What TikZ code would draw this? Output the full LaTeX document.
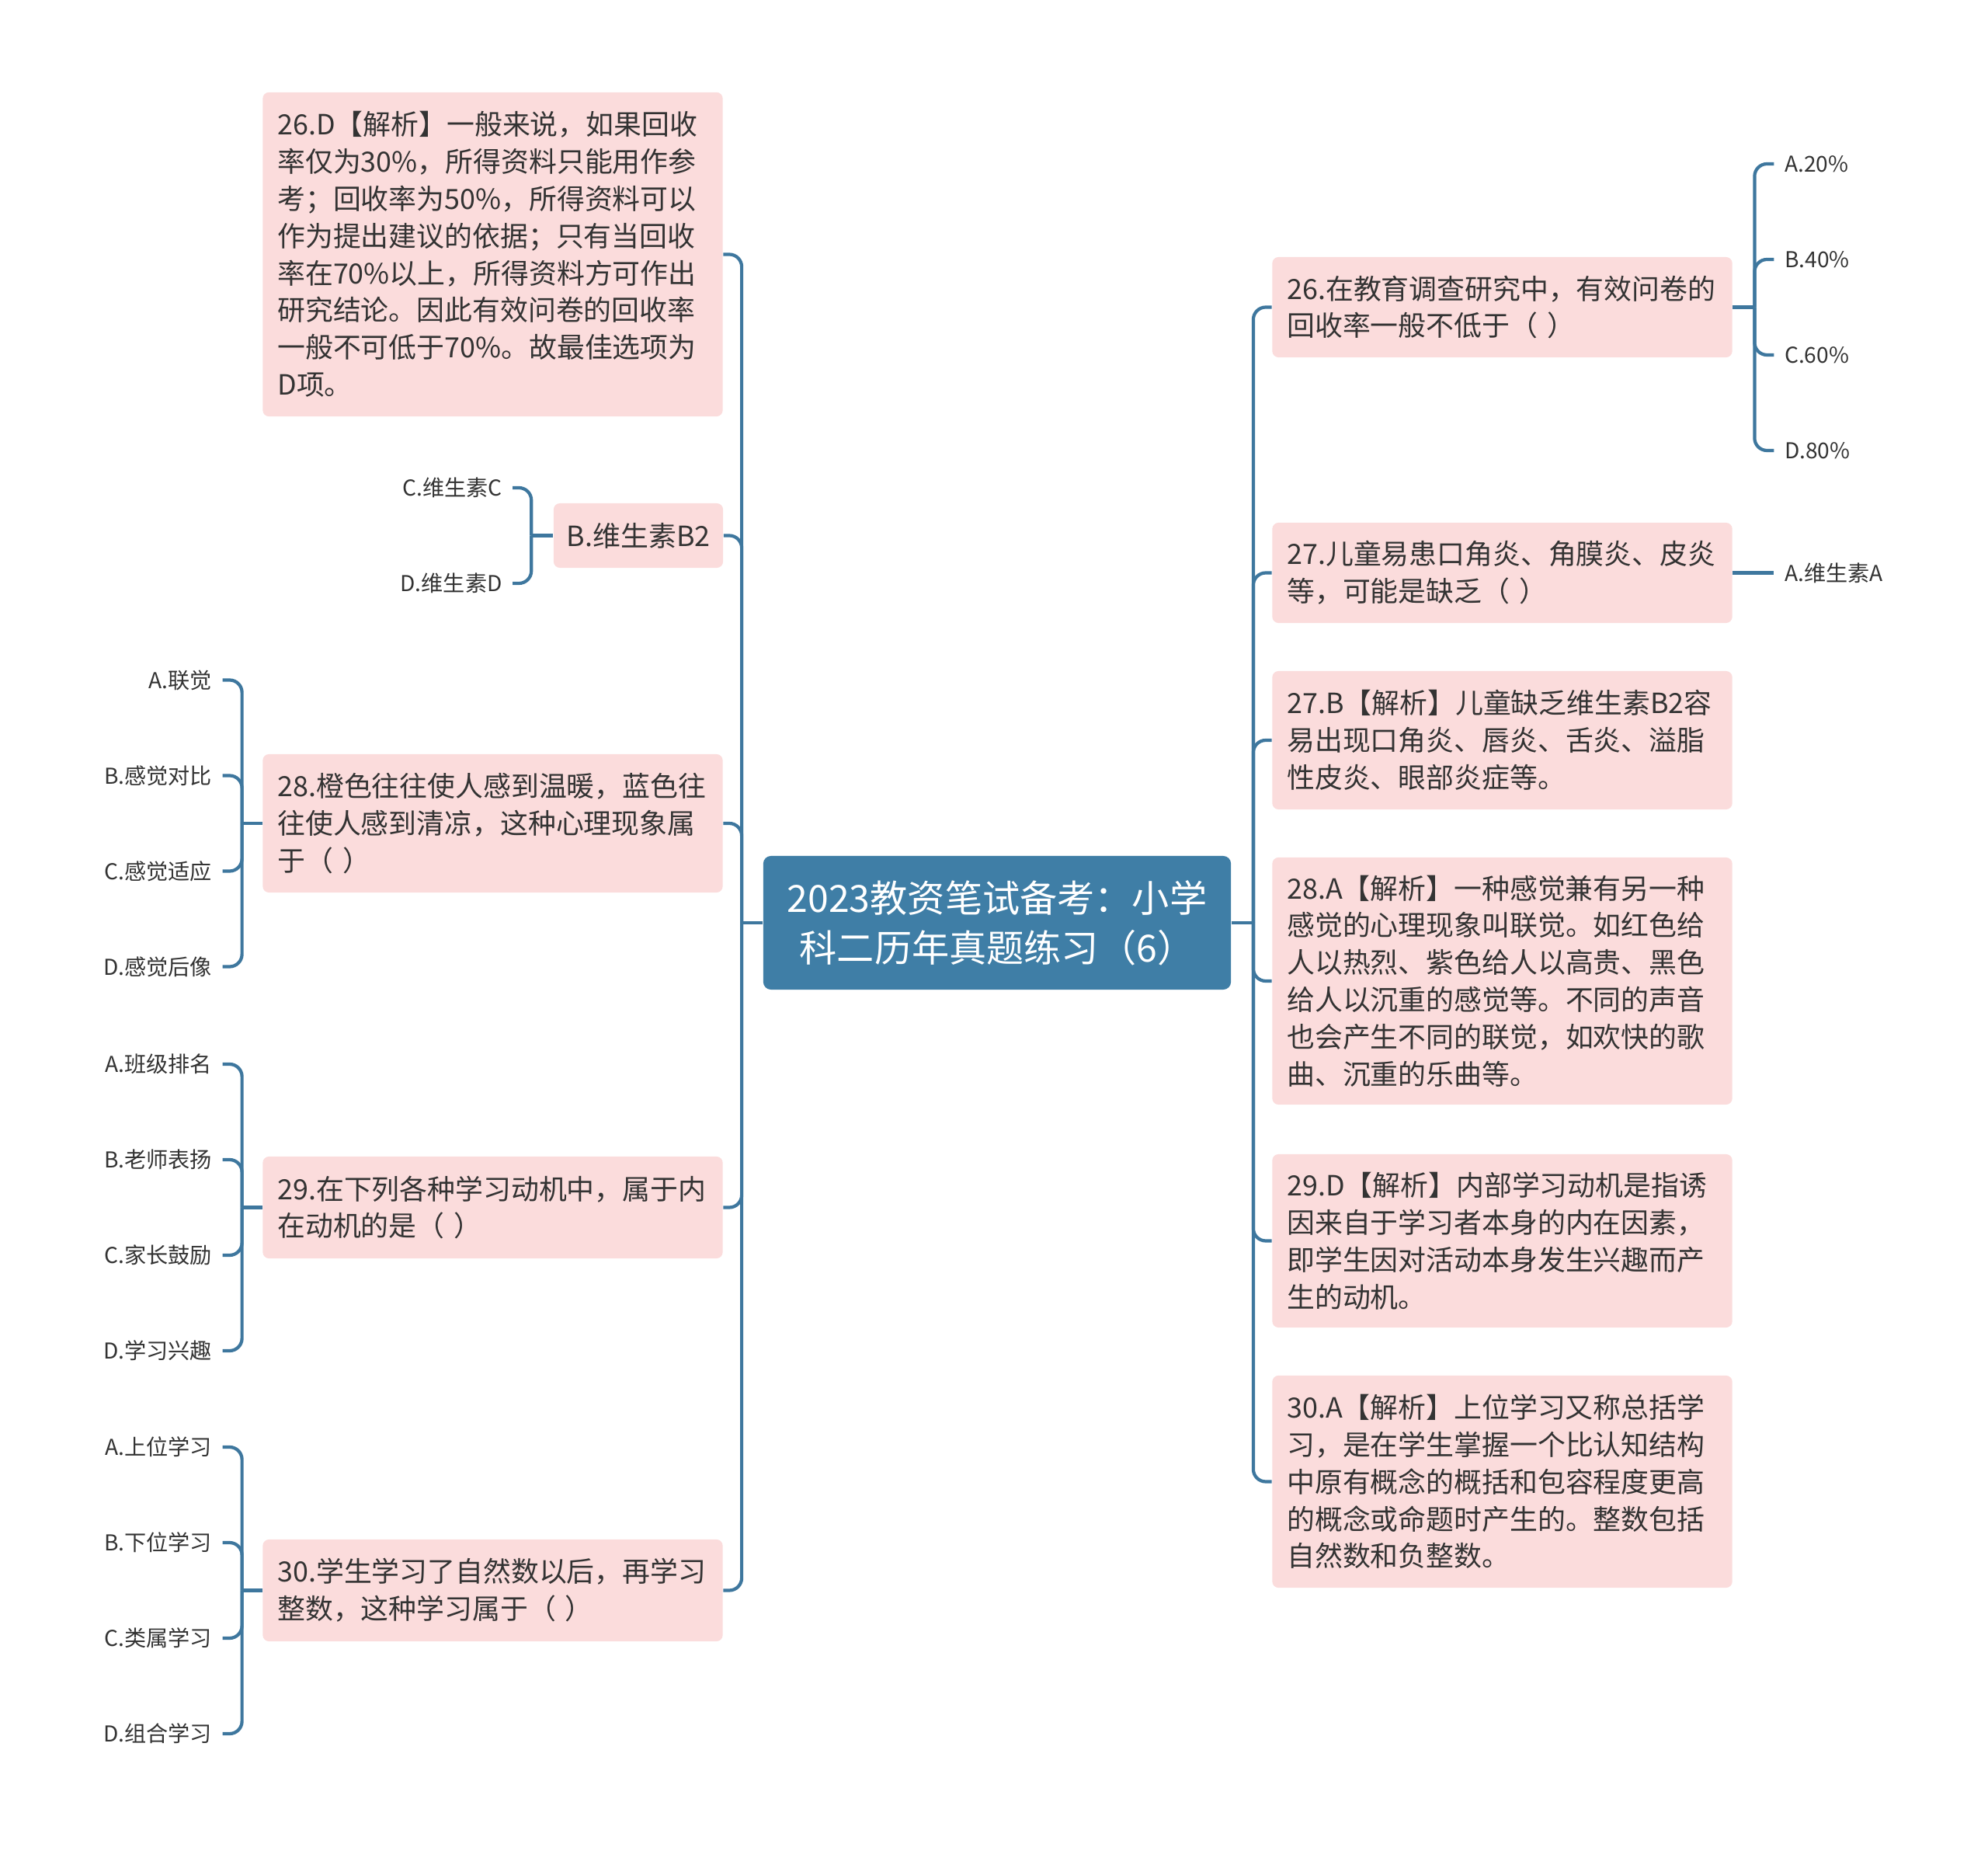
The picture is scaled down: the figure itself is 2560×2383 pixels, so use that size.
\documentclass[tikz,border=0pt]{standalone}
\usepackage{fontspec}
\setmainfont{Noto Sans CJK SC}
\usetikzlibrary{positioning,calc}
\definecolor{pinkbg}{RGB}{251,220,220}
\definecolor{centrebg}{RGB}{63,126,166}
\definecolor{linkc}{RGB}{62,119,158}
\definecolor{textc}{RGB}{51,51,51}
\newcommand{\qfont}{\fontsize{10.2pt}{13.6pt}\selectfont}
\newcommand{\cfont}{\fontsize{13.7pt}{18.2pt}\selectfont}
\newcommand{\ofont}{\fontsize{8pt}{10pt}\selectfont}

\begin{document}
\begin{tikzpicture}[
  x=0.01cm, y=-0.01cm,
  qbox/.style={fill=pinkbg, rounded corners=0.08cm, inner xsep=0.19cm, inner ysep=0pt,
    minimum width=5.92cm, minimum height=#1, text width=5.54cm, align=left,
    font=\qfont, text=textc},
  qbox/.default=1.29cm,
  centre/.style={fill=centrebg, rounded corners=0.1cm, minimum width=6.02cm,
    minimum height=1.72cm, align=center, font=\cfont, text=white},
  opt/.style={inner xsep=0.13cm, inner ysep=0pt, font=\ofont, text=textc},
  link/.style={draw=linkc, line width=1.2pt, rounded corners=0.16cm},
]
  \useasboundingbox (0,0) rectangle (2560,2383);

  \node[centre] (centre) at (1284,1188) {2023教资笔试备考：小学\\科二历年真题练习（6）};

  % left side
  \node[qbox=4.17cm] (L1) at (634.5,327.5) {26.D【解析】一般来说，如果回收\\率仅为30\%，所得资料只能用作参\\考；回收率为50\%，所得资料可以\\作为提出建议的依据；只有当回收\\率在70\%以上，所得资料方可作出\\研究结论。因此有效问卷的回收率\\一般不可低于70\%。故最佳选项为\\D项。};
  \node[qbox=0.83cm, minimum width=2.18cm, text width=1.84cm, inner xsep=0.17cm] (L2) at (822,689.5) {B.维生素B2};
  \node[qbox=1.78cm] (L3) at (634.5,1060) {28.橙色往往使人感到温暖，蓝色往\\往使人感到清凉，这种心理现象属\\于（ ）};
  \node[qbox=1.31cm] (L4) at (634.5,1554.5) {29.在下列各种学习动机中，属于内\\在动机的是（ ）};
  \node[qbox=1.31cm] (L5) at (634.5,2047.5) {30.学生学习了自然数以后，再学习\\整数，这种学习属于（ ）};

  % right side
  \node[qbox=1.29cm] (R1) at (1934.5,395.5) {26.在教育调查研究中，有效问卷的\\回收率一般不低于（ ）};
  \node[qbox=1.29cm] (R2) at (1934.5,737.5) {27.儿童易患口角炎、角膜炎、皮炎\\等，可能是缺乏（ ）};
  \node[qbox=1.78cm] (R3) at (1934.5,953) {27.B【解析】儿童缺乏维生素B2容\\易出现口角炎、唇炎、舌炎、溢脂\\性皮炎、眼部炎症等。};
  \node[qbox=3.18cm] (R4) at (1934.5,1263) {28.A【解析】一种感觉兼有另一种\\感觉的心理现象叫联觉。如红色给\\人以热烈、紫色给人以高贵、黑色\\给人以沉重的感觉等。不同的声音\\也会产生不同的联觉，如欢快的歌\\曲、沉重的乐曲等。};
  \node[qbox=2.23cm] (R5) at (1934.5,1597.5) {29.D【解析】内部学习动机是指诱\\因来自于学习者本身的内在因素，\\即学生因对活动本身发生兴趣而产\\生的动机。};
  \node[qbox=2.73cm] (R6) at (1934.5,1907.5) {30.A【解析】上位学习又称总括学\\习，是在学生掌握一个比认知结构\\中原有概念的概括和包容程度更高\\的概念或命题时产生的。整数包括\\自然数和负整数。};

  % trunks
  \draw[link] (centre.west) -- ++(-27,0) coordinate (ljoin);
  \draw[link] (centre.east) -- ++(28,0) coordinate (rjoin);
  \foreach \n in {L1,L2,L3,L4,L5}
    \draw[link] (ljoin) |- (\n.east);
  \foreach \n in {R1,R2,R3,R4,R5,R6}
    \draw[link] (rjoin) |- (\n.west);

  % options
  \draw[link] (L2.west) -- ++(-28,0) coordinate (L2j);
  \foreach \t [count=\k] in {C.维生素C,D.维生素D} {
    \node[opt, anchor=east] (L2o\k) at ($(L2.west)+(-52,-184.5+123*\k)$) {\t};
    \draw[link] (L2j) |- (L2o\k.east);
  }
  \draw[link] (L3.west) -- ++(-26,0) coordinate (L3j);
  \foreach \t [count=\k] in {A.联觉,B.感觉对比,C.感觉适应,D.感觉后像} {
    \node[opt, anchor=east] (L3o\k) at ($(L3.west)+(-51,-307.5+123*\k)$) {\t};
    \draw[link] (L3j) |- (L3o\k.east);
  }
  \draw[link] (L4.west) -- ++(-26,0) coordinate (L4j);
  \foreach \t [count=\k] in {A.班级排名,B.老师表扬,C.家长鼓励,D.学习兴趣} {
    \node[opt, anchor=east] (L4o\k) at ($(L4.west)+(-51,-307.5+123*\k)$) {\t};
    \draw[link] (L4j) |- (L4o\k.east);
  }
  \draw[link] (L5.west) -- ++(-26,0) coordinate (L5j);
  \foreach \t [count=\k] in {A.上位学习,B.下位学习,C.类属学习,D.组合学习} {
    \node[opt, anchor=east] (L5o\k) at ($(L5.west)+(-51,-307.5+123*\k)$) {\t};
    \draw[link] (L5j) |- (L5o\k.east);
  }
  \draw[link] (R1.east) -- ++(28,0) coordinate (R1j);
  \foreach \t [count=\k] in {A.20\%,B.40\%,C.60\%,D.80\%} {
    \node[opt, anchor=west] (R1o\k) at ($(R1.east)+(53,-307.5+123*\k)$) {\t};
    \draw[link] (R1j) |- (R1o\k.west);
  }
  \node[opt, anchor=west] (R2o1) at ($(R2.east)+(53,0)$) {A.维生素A};
  \draw[link] (R2.east) -- (R2o1.west);
\end{tikzpicture}
\end{document}
